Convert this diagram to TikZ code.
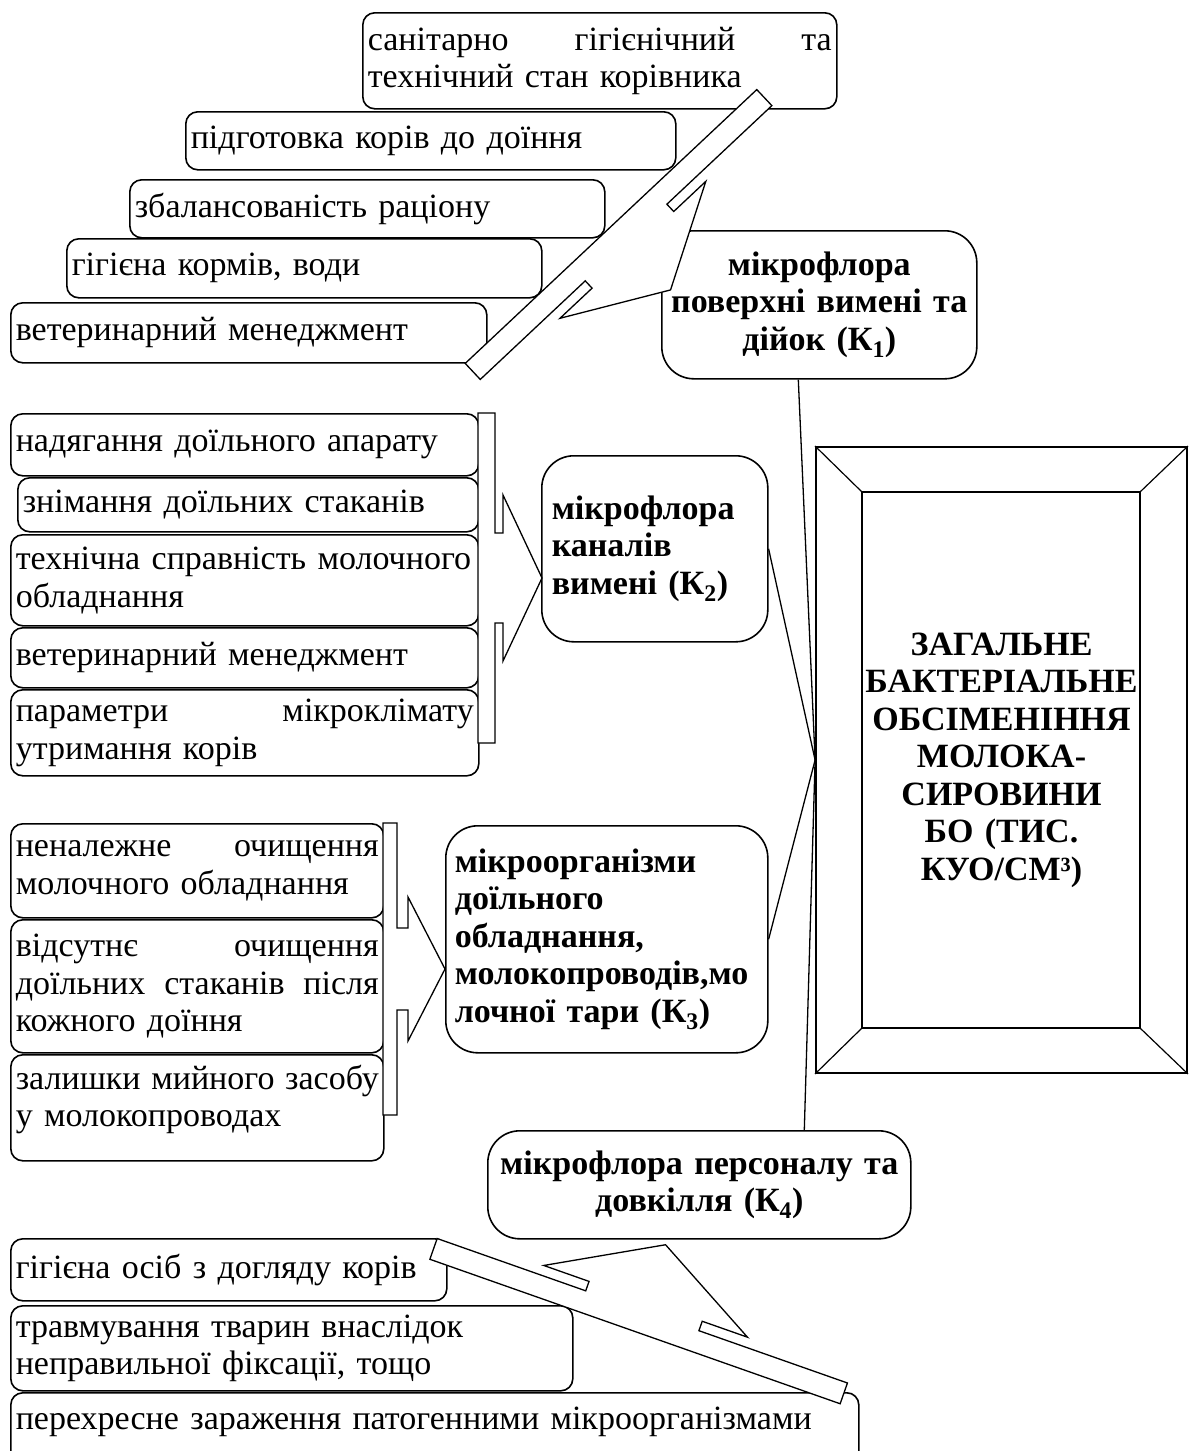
\documentclass[tikz,border=0pt]{standalone}
\usepackage{fontspec}
\setmainfont{Liberation Serif}
\usepackage{tikz}
\newcommand\fs{\fontsize{34}{37.5}\selectfont}

\tikzset{
  factor/.style={draw, line width=1.6pt, rounded corners=12pt, fill=white,
    anchor=north west, inner sep=5pt, font=\fs, align=left},
  source/.style={draw, line width=1.6pt, rounded corners=32pt, fill=white,
    anchor=north west, inner sep=8pt, font=\fs\bfseries},
  arrowbody/.style={draw, line width=1.3pt, fill=white, line join=miter},
  link/.style={line width=1.3pt},
  pics/barrow/.style n args={6}{code={
    % #1 bar length, #2 bar width, #3 gap, #4 half head, #5 notch, #6 head length
    \draw[arrowbody] (0,-#1/2) -- (#2,-#1/2) -- (#2,-#5) -- (#2+#3,-#5) -- (#2+#3,-#4)
      -- (#2+#3+#6,0) -- (#2+#3,#4) -- (#2+#3,#5) -- (#2,#5) -- (#2,#1/2) -- (0,#1/2) -- cycle;
  }},
}

\begin{document}
\begin{tikzpicture}[x=1pt, y=-1pt]
\useasboundingbox (0,0) rectangle (1190,1451);

% upper group
\node[factor, minimum width=474pt, minimum height=96pt, text width=464pt] (f1) at (362,12)
  {санітарно\hfill гігієнічний\hfill та\\технічний стан корівника};
\node[factor, minimum width=490pt, minimum height=58pt, text width=480pt] (f2) at (185,111) {підготовка корів до доїння};
\node[factor, minimum width=475pt, minimum height=58pt, text width=465pt] (f3) at (129,179) {збалансованість раціону};
\node[factor, minimum width=475pt, minimum height=59pt, text width=465pt] (f4) at (66,238) {гігієна кормів, води};
\node[factor, minimum width=476pt, minimum height=60pt, text width=466pt] (f5) at (10,302) {ветеринарний менеджмент};

% second group
\node[factor, minimum width=468pt, minimum height=62pt, text width=458pt] (g1) at (10,413) {надягання доїльного апарату};
\node[factor, minimum width=461pt, minimum height=54pt, text width=451pt] (g2) at (17,477) {знімання доїльних стаканів};
\node[factor, minimum width=468pt, minimum height=91pt, text width=458pt] (g3) at (10,534)
  {технічна~справність~молочного\\обладнання};
\node[factor, minimum width=468pt, minimum height=60pt, text width=458pt] (g4) at (10,627) {ветеринарний менеджмент};
\node[factor, minimum width=468pt, minimum height=86pt, text width=458pt] (g5) at (10,689)
  {параметри\hfill мікроклімату\\утримання корів};

% third group
\node[factor, minimum width=373pt, minimum height=94pt, text width=363pt] (h1) at (10,823)
  {неналежне\hfill очищення\\молочного обладнання};
\node[factor, minimum width=373pt, minimum height=133pt, text width=363pt] (h2) at (10,919)
  {відсутнє\hfill очищення\\доїльних\hfill стаканів\hfill після\\кожного доїння};
\node[factor, minimum width=373pt, minimum height=106pt, text width=363pt] (h3) at (10,1054)
  {залишки\hfill мийного\hfill засобу\\у молокопроводах\\[-14pt]\mbox{}};

% fourth group
\node[factor, minimum width=436pt, minimum height=62pt, text width=426pt] (p1) at (10,1238) {гігієна осіб з догляду корів};
\node[factor, minimum width=562pt, minimum height=85pt, text width=552pt] (p2) at (10,1305)
  {травмування тварин внаслідок\\неправильної фіксації,\ тощо};
\node[factor, minimum width=848pt, minimum height=88pt, text width=838pt] (p3) at (10,1392)
  {перехресне зараження патогенними мікроорганізмами\\\mbox{}};

% sources
\node[source, minimum width=315pt, minimum height=148pt, text width=299pt, align=center] (k1) at (661,230)
  {мікрофлора\\поверхні~вимені~та\\дійок (К\textsubscript{1})};
\node[source, minimum width=226pt, minimum height=186pt, text width=206pt, align=left] (k2) at (541,455)
  {мікрофлора\\каналів\\вимені (К\textsubscript{2})};
\node[source, minimum width=322pt, minimum height=227pt, text width=304pt, align=left] (k3) at (445,825)
  {мікроорганізми\\доїльного\\обладнання,\\молокопроводів,мо\\лочної тари (К\textsubscript{3})};
\node[source, minimum width=423pt, minimum height=108pt, text width=407pt, align=center] (k4) at (487,1130)
  {мікрофлора~персоналу~та\\довкілля (К\textsubscript{4})};

% arrows
\pic[rotate=-46.8] at (611,226.5) {barrow={400}{22}{10}{100}{56}{55}};
\pic at (478,578) {barrow={330}{17}{8}{83}{45}{39}};
\pic at (383,969) {barrow={292}{14}{11}{72}{41}{37}};
\pic[rotate=70.6] at (635,1331.5) {barrow={435}{22}{10}{108}{60}{60}};

% result
\node[draw, line width=1.8pt, minimum width=371pt, minimum height=626pt, text width=300pt,
  align=center, font=\fs\bfseries] (main) at (1001.5,760)
  {ЗАГАЛЬНЕ\\БАКТЕРІАЛЬНЕ\\ОБСІМЕНІННЯ\\МОЛОКА-\\СИРОВИНИ\\БО (ТИС.\\КУО/СМ³)};
\coordinate (in-nw) at (862,492);
\coordinate (in-ne) at (1140,492);
\coordinate (in-sw) at (862,1028);
\coordinate (in-se) at (1140,1028);
\draw[line width=1.8pt] (in-nw) rectangle (in-se);
\draw[line width=1.2pt] (main.north west) -- (in-nw) (main.north east) -- (in-ne)
  (main.south west) -- (in-sw) (main.south east) -- (in-se);

% links
\draw[link] ([xshift=-21pt]k1.south) -- (main.west);
\draw[link] (k2.east) -- (main.west);
\draw[link] (k3.east) -- (main.west);
\draw[link] ([xshift=105pt]k4.north) -- (main.west);
\end{tikzpicture}
\end{document}
